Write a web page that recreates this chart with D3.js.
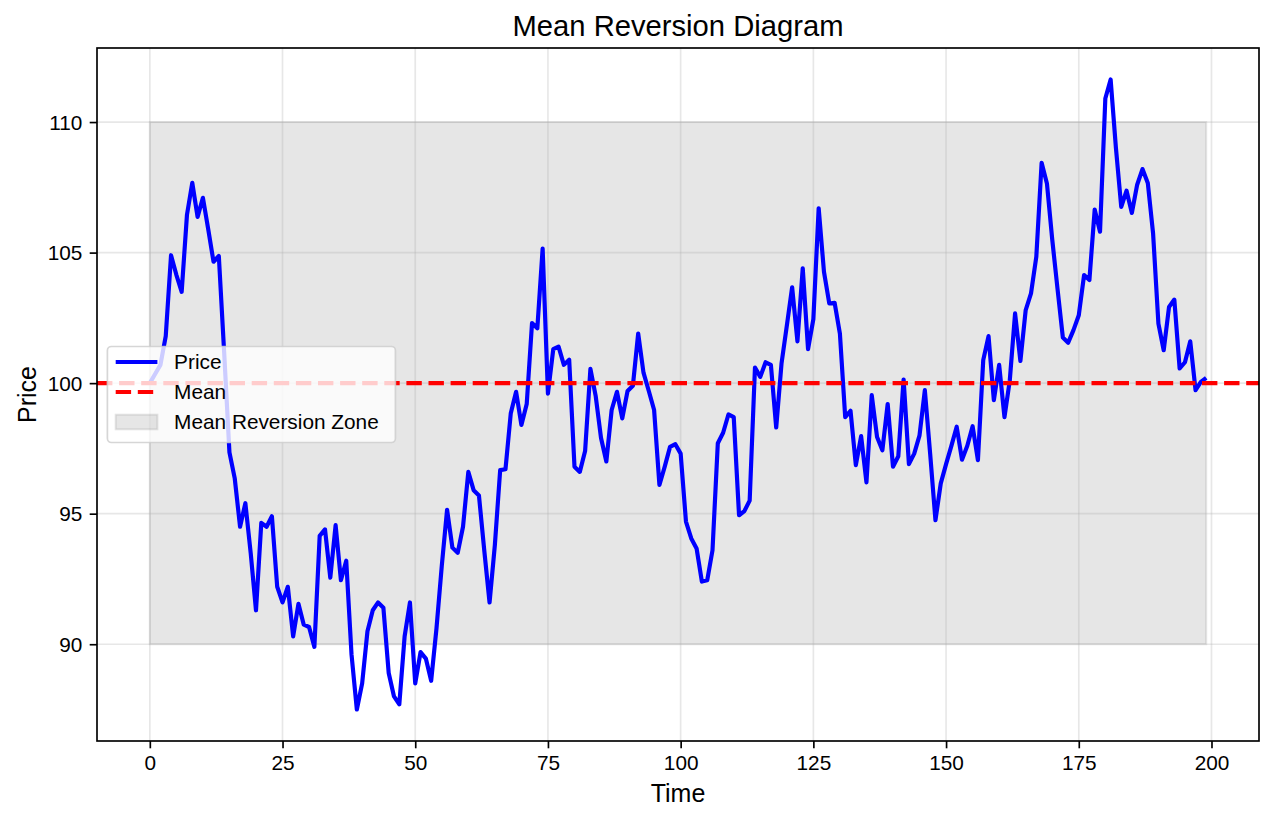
<!DOCTYPE html>
<html>
<head>
<meta charset="utf-8">
<script src="https://cdn.jsdelivr.net/npm/d3@7"></script>
<style>
  body { margin: 0; background: #fff; }
  svg { display: block; font-family: "Liberation Sans", Arial, sans-serif; }
</style>
</head>
<body>
<svg id="chart"></svg>
<script>
// price series (one value per time step, t = 0..199)
const price = [
  100.0, 100.35, 100.7, 101.8, 104.9, 104.15, 103.5, 106.45, 107.67, 106.37,
  107.1, 105.9, 104.65, 104.87, 101.2, 97.35, 96.35, 94.5, 95.4, 93.5,
  91.3, 94.65, 94.5, 94.9, 92.2, 91.6, 92.2, 90.3, 91.55, 90.75,
  90.66, 89.9, 94.15, 94.4, 92.55, 94.56, 92.45, 93.2, 89.6, 87.5,
  88.5, 90.5, 91.3, 91.6, 91.4, 88.9, 88.0, 87.7, 90.3, 91.6,
  88.5, 89.7, 89.45, 88.6, 90.6, 93.0, 95.15, 93.7, 93.5, 94.5,
  96.6, 95.9, 95.7, 93.6, 91.6, 93.8, 96.67, 96.7, 98.85, 99.67,
  98.4, 99.2, 102.3, 102.1, 105.15, 99.6, 101.3, 101.4, 100.7, 100.9,
  96.8, 96.6, 97.4, 100.55, 99.5, 97.9, 97.0, 98.97, 99.67, 98.65,
  99.7, 99.9, 101.9, 100.4, 99.7, 98.97, 96.1, 96.8, 97.56, 97.66,
  97.3, 94.7, 94.05, 93.67, 92.4, 92.45, 93.6, 97.7, 98.1, 98.8,
  98.7, 94.94, 95.1, 95.5, 100.6, 100.24, 100.8, 100.7, 98.3, 100.75,
  102.2, 103.67, 101.6, 104.4, 101.3, 102.45, 106.7, 104.26, 103.05, 103.08,
  101.9, 98.7, 98.94, 96.86, 97.97, 96.2, 99.54, 97.94, 97.43, 99.2,
  96.8, 97.2, 100.14, 96.9, 97.3, 98.0, 99.73, 97.3, 94.75, 96.16,
  96.9, 97.6, 98.33, 97.07, 97.6, 98.35, 97.05, 100.88, 101.8, 99.35,
  100.7, 98.7, 100.1, 102.67, 100.85, 102.8, 103.44, 104.84, 108.44, 107.65,
  105.5, 103.6, 101.75, 101.55, 102.03, 102.6, 104.14, 103.95, 106.65, 105.8,
  110.9, 111.63, 109.0, 106.75, 107.37, 106.52, 107.6, 108.2, 107.67, 105.73,
  102.28, 101.26, 102.92, 103.2, 100.56, 100.8, 101.6, 99.73, 100.05, 100.2
];
const meanValue = 100;
const zoneBounds = [90, 110];
const xTicks = [0, 25, 50, 75, 100, 125, 150, 175, 200];
const yTicks = [90, 95, 100, 105, 110];
const legendLabels = ['Price', 'Mean', 'Mean Reversion Zone'];

const width = 1274, height = 822;
const margin = { top: 48, right: 15, bottom: 81, left: 97 };
const fs = 20.8;

const svg = d3.select('#chart')
  .attr('width', width)
  .attr('height', height);

svg.append('rect').attr('width', width).attr('height', height).attr('fill', '#fff');

// matplotlib style 5% margins
const pad = (lo, hi) => { const p = (hi - lo) * 0.05; return [lo - p, hi + p]; };
const x = d3.scaleLinear()
  .domain(pad(0, price.length - 1))
  .range([margin.left, width - margin.right]);
const y = d3.scaleLinear()
  .domain(pad(d3.min(price), d3.max(price)))
  .range([height - margin.bottom, margin.top]);

const x0 = margin.left, x1 = width - margin.right;
const y0 = margin.top, y1 = height - margin.bottom;

const clip = svg.append('clipPath').attr('id', 'clip')
  .append('rect').attr('x', x0).attr('y', y0).attr('width', x1 - x0).attr('height', y1 - y0);

// zone
svg.append('rect')
  .attr('x', x(0))
  .attr('y', y(zoneBounds[1]))
  .attr('width', x(price.length - 1) - x(0))
  .attr('height', y(zoneBounds[0]) - y(zoneBounds[1]))
  .attr('fill', '#808080').attr('fill-opacity', 0.2)
  .attr('stroke', '#808080').attr('stroke-opacity', 0.2).attr('stroke-width', 2);

// grid
const grid = svg.append('g').attr('stroke', '#b0b0b0').attr('stroke-opacity', 0.3).attr('stroke-width', 1.67);
grid.selectAll('.gx').data(xTicks).join('line')
  .attr('x1', d => x(d)).attr('x2', d => x(d)).attr('y1', y0).attr('y2', y1);
grid.selectAll('.gy').data(yTicks).join('line')
  .attr('x1', x0).attr('x2', x1).attr('y1', d => y(d)).attr('y2', d => y(d));

// price line
const line = d3.line().x((d, i) => x(i)).y(d => y(d));
svg.append('path')
  .datum(price)
  .attr('clip-path', 'url(#clip)')
  .attr('fill', 'none')
  .attr('stroke', '#0000ff')
  .attr('stroke-width', 4.17)
  .attr('stroke-linejoin', 'round')
  .attr('d', line);

// mean line
svg.append('line')
  .attr('x1', x0).attr('x2', x1)
  .attr('y1', y(meanValue)).attr('y2', y(meanValue))
  .attr('stroke', '#ff0000')
  .attr('stroke-width', 4.17)
  .attr('stroke-dasharray', '15.4,6.7');

// axes
const xAxis = svg.append('g')
  .attr('transform', `translate(0,${y1})`)
  .call(d3.axisBottom(x).tickValues(xTicks).tickFormat(d3.format('d')).tickSize(7.3).tickPadding(7.3));
const yAxis = svg.append('g')
  .attr('transform', `translate(${x0},0)`)
  .call(d3.axisLeft(y).tickValues(yTicks).tickFormat(d3.format('d')).tickSize(7.3).tickPadding(7.3));
[xAxis, yAxis].forEach(g => {
  g.select('.domain').remove();
  g.selectAll('.tick line').attr('stroke', '#000').attr('stroke-width', 1.67);
  g.selectAll('.tick text').attr('fill', '#000').style('font-size', fs + 'px')
    .style('font-family', '"Liberation Sans", Arial, sans-serif');
});
yAxis.selectAll('.tick text').attr('dy', '0.34em');

// frame
svg.append('rect')
  .attr('x', x0).attr('y', y0).attr('width', x1 - x0).attr('height', y1 - y0)
  .attr('fill', 'none').attr('stroke', '#000').attr('stroke-width', 1.67);

// labels
svg.append('text')
  .attr('x', (x0 + x1) / 2).attr('y', 36)
  .attr('text-anchor', 'middle')
  .style('font-size', '29.2px')
  .text('Mean Reversion Diagram');
svg.append('text')
  .attr('x', (x0 + x1) / 2).attr('y', 802)
  .attr('text-anchor', 'middle')
  .style('font-size', '25px')
  .text('Time');
svg.append('text')
  .attr('transform', `translate(36,${(y0 + y1) / 2}) rotate(-90)`)
  .attr('text-anchor', 'middle')
  .style('font-size', '25px')
  .text('Price');

// legend (center left)
const lgW = 288, lgH = 96;
const lgX = x0 + 10.4, lgY = (y0 + y1) / 2 - lgH / 2;
const lg = svg.append('g').attr('transform', `translate(${lgX},${lgY})`);
lg.append('rect')
  .attr('width', lgW).attr('height', lgH)
  .attr('rx', 4).attr('ry', 4)
  .attr('fill', '#fff').attr('fill-opacity', 0.8)
  .attr('stroke', '#cccccc').attr('stroke-opacity', 0.8).attr('stroke-width', 1.67);

const rowY = [15.5, 45.5, 75.5];
const hx0 = 8.3, hx1 = 8.3 + 41.7;
lg.append('line')
  .attr('x1', hx0).attr('x2', hx1).attr('y1', rowY[0]).attr('y2', rowY[0])
  .attr('stroke', '#0000ff').attr('stroke-width', 4.17);
lg.append('line')
  .attr('x1', hx0).attr('x2', hx1).attr('y1', rowY[1]).attr('y2', rowY[1])
  .attr('stroke', '#ff0000').attr('stroke-width', 4.17).attr('stroke-dasharray', '15.4,6.7');
lg.append('rect')
  .attr('x', hx0).attr('y', rowY[2] - 7.3).attr('width', 41.7).attr('height', 14.6)
  .attr('fill', '#808080').attr('fill-opacity', 0.2)
  .attr('stroke', '#808080').attr('stroke-opacity', 0.2).attr('stroke-width', 2);

lg.selectAll('.lt').data(legendLabels).join('text')
  .attr('x', hx1 + 16.7)
  .attr('y', (d, i) => rowY[i])
  .attr('dy', '0.35em')
  .style('font-size', fs + 'px')
  .text(d => d);
</script>
</body>
</html>
